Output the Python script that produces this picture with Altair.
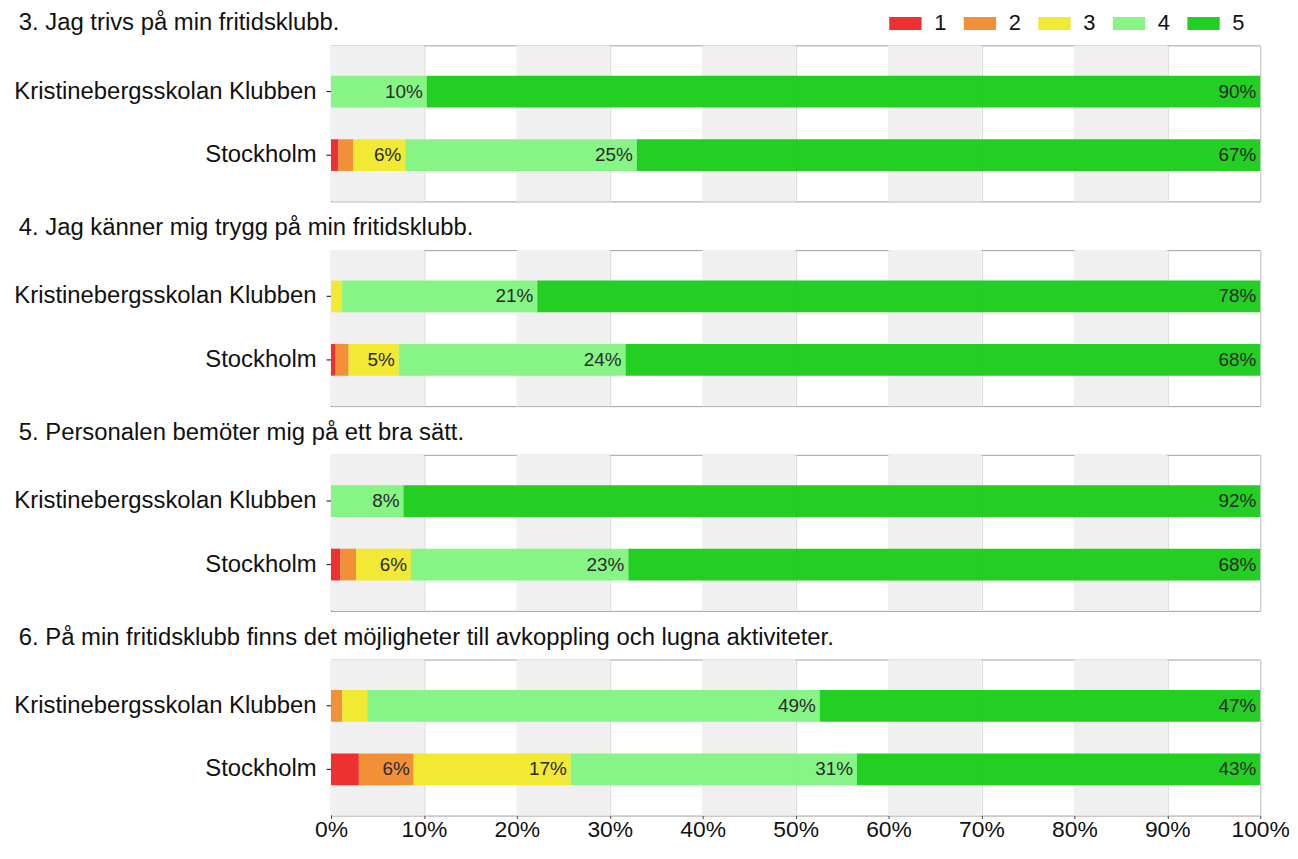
import altair as alt
import pandas as pd

questions = [
    "3. Jag trivs på min fritidsklubb.",
    "4. Jag känner mig trygg på min fritidsklubb.",
    "5. Personalen bemöter mig på ett bra sätt.",
    "6. På min fritidsklubb finns det möjligheter till avkoppling och lugna aktiviteter.",
]
groups = ["Kristinebergsskolan Klubben", "Stockholm"]
answers = ["1", "2", "3", "4", "5"]
# percent per answer 1..5, per question
kristineberg = [
    [0.0, 0.0, 0.0, 10.3, 89.7],
    [0.0, 0.0, 1.2, 21.0, 77.8],
    [0.0, 0.0, 0.0, 7.8, 92.2],
    [0.0, 1.2, 2.7, 48.7, 47.4],
]
stockholm = [
    [0.8, 1.6, 5.6, 24.9, 67.1],
    [0.5, 1.4, 5.4, 24.4, 68.3],
    [1.0, 1.7, 5.9, 23.4, 68.0],
    [3.0, 5.9, 16.9, 30.8, 43.4],
]
colors = ["#ec2626", "#f08a2c", "#f0e828", "#80f480", "#16cc16"]
tick_values = [0, 10, 20, 30, 40, 50, 60, 70, 80, 90, 100]
band_starts = [0, 20, 40, 60, 80]

rows = []
for qi, q in enumerate(questions):
    for g, vals in zip(groups, [kristineberg[qi], stockholm[qi]]):
        for ai, (a, v) in enumerate(zip(answers, vals)):
            rows.append({"q": q, "group": g, "answer": a, "idx": ai, "value": v})
df = pd.DataFrame(rows)
bands_df = pd.DataFrame({"start": band_starts, "end": [b + 10 for b in band_starts]})

FONT = "Liberation Sans"
xscale = alt.Scale(domain=[0, 100], nice=False, zero=True)
yscale = alt.Scale(domain=groups, paddingInner=0.5, paddingOuter=0.48)

leg = alt.Legend(title=None, orient="none", legendX=567, legendY=-33,
                 direction="horizontal", symbolType="M-2.5,-1H2.5V1H-2.5Z",
                 symbolSize=169, symbolStrokeWidth=0, labelFontSize=22,
                 labelColor="#111", labelOffset=18, columnPadding=16, padding=0,
                 labelLimit=0)


def panel(i, bottom):
    d = df[df.q == questions[i]]
    if bottom:
        xaxis = alt.Axis(values=tick_values, labelExpr="datum.value + '%'", grid=True,
                         gridColor="#d6d6d6", title=None, labelFontSize=23, labelColor="#111",
                         ticks=True, tickSize=3, tickColor="#444", domain=False,
                         labelPadding=0, labelFlush=False)
    else:
        xaxis = alt.Axis(values=tick_values, labels=False, ticks=False, domain=False, grid=True,
                         gridColor="#d6d6d6", title=None)
    bands = alt.Chart(bands_df).mark_rect(color="#f0f0f0").encode(
        x=alt.X("start:Q", scale=xscale, axis=xaxis),
        x2="end:Q",
    )
    yaxis = alt.Axis(title=None, labelFontSize=24, labelColor="#111", domainColor="#111",
                     tickColor="#111", tickSize=5, labelPadding=10, grid=False, labelLimit=0)
    bars = alt.Chart(d).mark_bar(opacity=0.95).encode(
        x=alt.X("value:Q", stack="zero", scale=xscale, axis=xaxis),
        y=alt.Y("group:N", scale=yscale, sort=groups, axis=yaxis),
        color=alt.Color("answer:N", scale=alt.Scale(domain=answers, range=colors), legend=leg),
        order=alt.Order("idx:Q"),
    )
    labels = alt.Chart(d).transform_stack(
        stack="value", as_=["v0", "v1"], groupby=["group"], sort=[alt.SortField("idx")]
    ).transform_filter("datum.value >= 5").transform_calculate(
        label="format(datum.value, '.0f') + '%'"
    ).mark_text(align="right", baseline="middle", dx=-4, fontSize=19, color="#2a2a2a").encode(
        x=alt.X("v1:Q", scale=xscale, axis=xaxis),
        y=alt.Y("group:N", scale=yscale, sort=groups, axis=yaxis),
        text="label:N",
    )
    return alt.layer(bands, bars, labels).properties(
        width=935, height=157,
        title=alt.TitleParams(text=questions[i], anchor="start", fontSize=24,
                              fontWeight="normal", color="#111", dx=5, offset=10, font=FONT),
    )


chart = alt.vconcat(
    panel(0, False), panel(1, False), panel(2, False), panel(3, True),
    spacing=13,
).properties(
    padding={"left": 5, "top": 0, "right": 0, "bottom": 0}
).configure(font=FONT).configure_view(stroke="#a0a0a0")

chart.save("out.html", embed_options={"renderer": "svg", "actions": False})
